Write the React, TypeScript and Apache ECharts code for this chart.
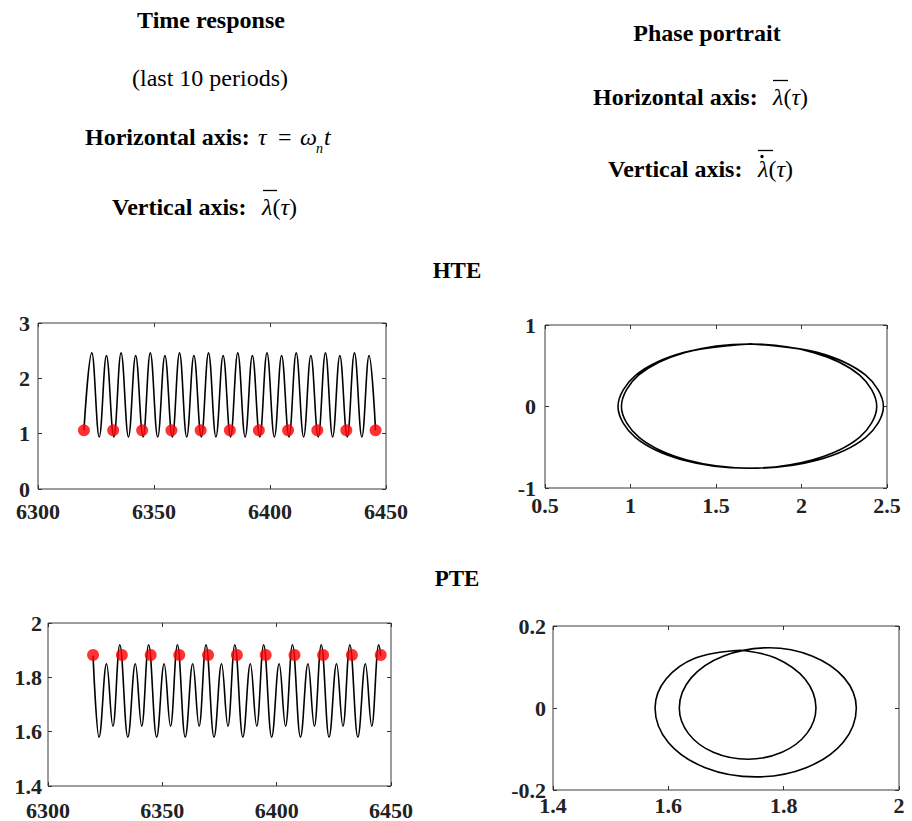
import React, { useEffect, useRef } from "react";
import * as echarts from "echarts";

// ---------------- data ----------------
// HTE time response: [tau, lambda] at start, peaks, troughs, end
const hteTimeCurve: number[][] = [
  [6319.8, 1.06],
  [6323.2, 2.46], [6326.4, 0.94], [6329.5, 2.41], [6332.7, 0.94],
  [6335.8, 2.46], [6339.0, 0.94], [6342.1, 2.41], [6345.3, 0.94],
  [6348.4, 2.46], [6351.6, 0.94], [6354.7, 2.41], [6357.9, 0.94],
  [6361.0, 2.46], [6364.1, 0.94], [6367.2, 2.41], [6370.4, 0.94],
  [6373.5, 2.46], [6376.7, 0.94], [6379.8, 2.41], [6383.0, 0.94],
  [6386.1, 2.46], [6389.3, 0.94], [6392.4, 2.41], [6395.6, 0.94],
  [6398.7, 2.46], [6401.9, 0.94], [6405.0, 2.41], [6408.2, 0.94],
  [6411.3, 2.46], [6414.5, 0.94], [6417.6, 2.41], [6420.8, 0.94],
  [6423.9, 2.46], [6427.0, 0.94], [6430.1, 2.41], [6433.3, 0.94],
  [6436.4, 2.46], [6439.6, 0.94], [6442.7, 2.41],
  [6445.5, 1.06],
];
const hteMarkers: number[][] = [
  [6319.8, 1.06], [6332.4, 1.06], [6344.9, 1.06], [6357.5, 1.06],
  [6370.1, 1.06], [6382.7, 1.06], [6395.2, 1.06], [6407.8, 1.06],
  [6420.4, 1.06], [6432.9, 1.06], [6445.5, 1.06],
];
// HTE phase portrait: [lambda, dlambda]
const htePhase: number[][] = [
  [1.703, 0.767], [2.091, 0.664], [2.375, 0.384], [2.479, 0.0],
  [2.376, -0.379], [2.096, -0.656], [1.713, -0.758], [1.33, -0.656],
  [1.05, -0.379], [0.947, 0.0],
  [1.047, 0.384], [1.32, 0.664], [1.694, 0.767], [2.067, 0.664],
  [2.34, 0.384], [2.44, 0.0],
  [2.339, -0.379], [2.062, -0.656], [1.684, -0.758], [1.305, -0.656],
  [1.028, -0.379], [0.927, 0.0],
  [1.031, 0.384], [1.315, 0.664], [1.703, 0.767],
];
// PTE time response
const pteTimeCurve: number[][] = [
  [6319.7, 1.88],
  [6322.3, 1.58], [6325.6, 1.85], [6328.4, 1.62], [6331.4, 1.92],
  [6334.9, 1.58], [6338.2, 1.85], [6341.0, 1.62], [6344.0, 1.92],
  [6347.5, 1.58], [6350.8, 1.85], [6353.6, 1.62], [6356.6, 1.92],
  [6360.0, 1.58], [6363.3, 1.85], [6366.1, 1.62], [6369.1, 1.92],
  [6372.6, 1.58], [6375.9, 1.85], [6378.7, 1.62], [6381.7, 1.92],
  [6385.2, 1.58], [6388.5, 1.85], [6391.3, 1.62], [6394.3, 1.92],
  [6397.8, 1.58], [6401.1, 1.85], [6403.9, 1.62], [6406.9, 1.92],
  [6410.4, 1.58], [6413.7, 1.85], [6416.5, 1.62], [6419.5, 1.92],
  [6422.9, 1.58], [6426.2, 1.85], [6429.0, 1.62], [6432.0, 1.92],
  [6435.5, 1.58], [6438.8, 1.85], [6441.6, 1.62], [6444.6, 1.92],
  [6445.5, 1.88],
];
const pteMarkers: number[][] = [
  [6319.7, 1.882], [6332.3, 1.882], [6344.9, 1.882], [6357.4, 1.882],
  [6370.0, 1.882], [6382.6, 1.882], [6395.2, 1.882], [6407.8, 1.882],
  [6420.3, 1.882], [6432.9, 1.882], [6445.5, 1.882],
];
// PTE phase portrait
const ptePhase: number[][] = [
  [1.725, 0.141], [1.786, 0.122], [1.837, 0.0705], [1.856, 0.0],
  [1.84, -0.0625], [1.797, -0.108], [1.738, -0.125], [1.678, -0.108],
  [1.635, -0.0625], [1.619, 0.0],
  [1.6396, 0.0735], [1.696, 0.127], [1.775, 0.147], [1.849, 0.127],
  [1.905, 0.0735], [1.926, 0.0],
  [1.903, -0.084], [1.839, -0.1455], [1.752, -0.168], [1.664, -0.1455],
  [1.6, -0.084], [1.577, 0.0],
  [1.596, 0.0705], [1.647, 0.122], [1.725, 0.141],
];

// axis ranges [min, max, interval]
const hteTimeX = [6300, 6450, 50];
const hteTimeY = [0, 3, 1];
const htePhaseX = [0.5, 2.5, 0.5];
const htePhaseY = [-1, 1, 1];
const pteTimeX = [6300, 6450, 50];
const pteTimeY = [1.4, 2, 0.2];
const ptePhaseX = [1.4, 2, 0.2];
const ptePhaseY = [-0.2, 0.2, 0.2];

const SERIF = "Liberation Serif";

export default function App() {
  const ref = useRef<HTMLDivElement>(null);
  useEffect(() => {
    document.body.style.margin = "0";
    if (!ref.current) return;
    const chart = echarts.init(ref.current, undefined, { renderer: "svg" });

    const grids = [
      { left: 38, top: 323, width: 348, height: 166 },
      { left: 545, top: 325, width: 342, height: 163 },
      { left: 48, top: 623, width: 343, height: 165 },
      { left: 553, top: 626, width: 346, height: 164 },
    ];
    const ranges = [
      [hteTimeX, hteTimeY],
      [htePhaseX, htePhaseY],
      [pteTimeX, pteTimeY],
      [ptePhaseX, ptePhaseY],
    ];
    const xMargins = [11, 6, 13, 4];
    const yMargins = [8, 9, 6, 7];
    const yPads = [[0, 0, 8, 0], 0, 0, 0];
    const fmt = (v: number) => String(Math.round(v * 1e6) / 1e6);
    const labelStyle = {
      fontFamily: SERIF,
      fontWeight: "bold" as const,
      fontSize: 22,
      color: "#222",
      formatter: fmt,
    };
    const tick = { show: true, inside: true, length: 4, lineStyle: { color: "#333", width: 1 } };
    const noLine = { show: false, onZero: false };
    const xAxis: any[] = [];
    const yAxis: any[] = [];
    ranges.forEach(([rx, ry], i) => {
      xAxis.push({
        type: "value", gridIndex: i, position: "bottom",
        min: rx[0], max: rx[1], interval: rx[2],
        axisLine: noLine, splitLine: { show: false }, axisTick: tick,
        axisLabel: { ...labelStyle, margin: xMargins[i], showMinLabel: true, showMaxLabel: true },
      });
      xAxis.push({
        type: "value", gridIndex: i, position: "top",
        min: rx[0], max: rx[1], interval: rx[2],
        axisLine: noLine, splitLine: { show: false }, axisTick: tick,
        axisLabel: { show: false },
      });
      yAxis.push({
        type: "value", gridIndex: i, position: "left",
        min: ry[0], max: ry[1], interval: ry[2],
        axisLine: noLine, splitLine: { show: false }, axisTick: tick,
        axisLabel: {
          ...labelStyle, lineHeight: 15, padding: yPads[i],
          margin: yMargins[i], showMinLabel: true, showMaxLabel: true,
        },
      });
      yAxis.push({
        type: "value", gridIndex: i, position: "right",
        min: ry[0], max: ry[1], interval: ry[2],
        axisLine: noLine, splitLine: { show: false }, axisTick: tick,
        axisLabel: { show: false },
      });
    });

    const curve = (data: number[][], i: number, smooth: number, mono: boolean) => ({
      type: "line",
      xAxisIndex: 2 * i,
      yAxisIndex: 2 * i,
      data,
      smooth,
      smoothMonotone: mono ? "x" : undefined,
      showSymbol: false,
      symbol: "none",
      lineStyle: { color: "#000", width: 1.6 },
      z: 2,
      silent: true,
    });
    const dots = (data: number[][], i: number) => ({
      type: "scatter",
      xAxisIndex: 2 * i,
      yAxisIndex: 2 * i,
      data,
      symbol: "circle",
      symbolSize: 12,
      itemStyle: { color: "#ff0000" },
      z: 3,
      silent: true,
    });

    const hdr = (text: string, x: number, y: number, opts: any = {}) => ({
      type: "text",
      x,
      y,
      silent: true,
      style: {
        text,
        fill: "#000",
        fontFamily: SERIF,
        fontSize: 24,
        fontWeight: "bold",
        textAlign: "left",
        textVerticalAlign: "middle",
        align: "left",
        verticalAlign: "middle",
        ...opts,
      },
    });
    const lamRich = {
      i: { fontFamily: SERIF, fontSize: 24, fontStyle: "italic", fontWeight: "normal", fill: "#000" },
      r: { fontFamily: SERIF, fontSize: 24, fontStyle: "normal", fontWeight: "normal", fill: "#000" },
    };
    const lam = (x: number, y: number) =>
      hdr("{i|λ}{r|(}{i|τ}{r|)}", x, y, { rich: lamRich, fontWeight: "normal" });
    const bar = (x1: number, x2: number, y: number) => ({
      type: "line",
      silent: true,
      shape: { x1, y1: y, x2, y2: y },
      style: { stroke: "#000", lineWidth: 1.3 },
    });

    const graphic: any[] = [
      hdr("Time response", 211, 20, { textAlign: "center", align: "center" }),
      hdr("(last 10 periods)", 210, 78, { textAlign: "center", align: "center", fontWeight: "normal" }),
      hdr("Horizontal axis:", 85, 137),
      hdr("τ", 258, 137, { fontWeight: "normal", fontStyle: "italic" }),
      hdr("=", 278, 137, { fontWeight: "normal" }),
      hdr("ω", 300, 137, { fontWeight: "normal", fontStyle: "italic" }),
      hdr("n", 316, 148, { fontWeight: "normal", fontStyle: "italic", fontSize: 14 }),
      hdr("t", 324, 137, { fontWeight: "normal", fontStyle: "italic" }),
      hdr("Vertical axis:", 112, 207),
      lam(262, 207),
      bar(263, 277, 190.5),

      hdr("Phase portrait", 707, 33, { textAlign: "center", align: "center" }),
      hdr("Horizontal axis:", 593, 97),
      lam(773, 97),
      bar(773, 788, 80.5),
      hdr("Vertical axis:", 608, 169),
      lam(758, 169),
      bar(758, 773, 150.5),
      {
        type: "circle",
        silent: true,
        shape: { cx: 762, cy: 156.5, r: 1.7 },
        style: { fill: "#000" },
      },

      hdr("HTE", 457, 270, { textAlign: "center", align: "center", fontSize: 23 }),
      hdr("PTE", 457, 578, { textAlign: "center", align: "center", fontSize: 23 }),
    ];

    chart.setOption({
      animation: false,
      backgroundColor: "#fff",
      grid: grids.map((g) => ({ ...g, show: true, borderColor: "#3a3a3a", borderWidth: 1, backgroundColor: "transparent" })),
      xAxis,
      yAxis,
      series: [
        curve(hteTimeCurve, 0, 0.4, true),
        dots(hteMarkers, 0),
        curve(htePhase, 1, 0.35, false),
        curve(pteTimeCurve, 2, 0.4, true),
        dots(pteMarkers, 2),
        curve(ptePhase, 3, 0.35, false),
      ],
      graphic,
    });
    return () => chart.dispose();
  }, []);
  return <div ref={ref} style={{ width: 912, height: 821 }} />;
}
